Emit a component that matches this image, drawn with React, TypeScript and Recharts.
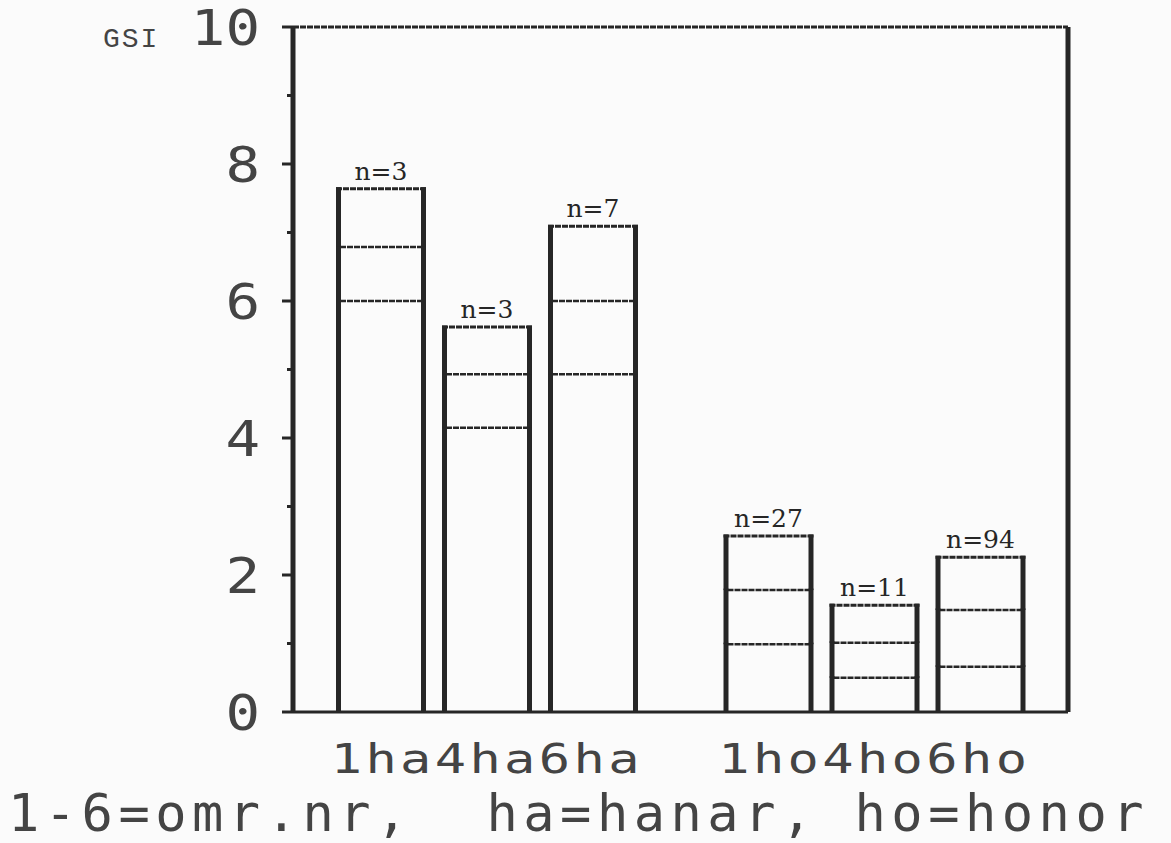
import { BarChart, Bar, XAxis, YAxis, ReferenceLine, LabelList } from "recharts";

// sex groups and age classes (1-6 = omr.nr)
const sexes = ["ha", "ho"];
const ages = ["1", "4", "6"];

// GSI per age class: top of bar, middle line, lower line, sample size
const haUpper = [7.64, 5.62, 7.09];
const haMean = [6.79, 4.93, 6.0];
const haLower = [6.0, 4.15, 4.93];
const haN = [3, 3, 7];

const hoUpper = [2.57, 1.56, 2.26];
const hoMean = [1.78, 1.01, 1.49];
const hoLower = [0.99, 0.5, 0.66];
const hoN = [27, 11, 94];

const yTicks = [0, 1, 2, 3, 4, 5, 6, 7, 8, 9, 10];
const yLabelTicks = [0, 2, 4, 6, 8, 10];

const caption = "1-6=omr.nr,  ha=hanar, ho=honor";

const INK = "#262626";
const TEXT = "#444444";

const series = [
  { upper: haUpper, mean: haMean, lower: haLower, n: haN },
  { upper: hoUpper, mean: hoMean, lower: hoLower, n: hoN },
];

const rows = sexes.map((s, si) => {
  const src = series[si];
  const row: Record<string, string | number> = { sex: s };
  ages.forEach((a, ai) => {
    row[`lo${a}`] = src.lower[ai];
    row[`mid${a}`] = src.mean[ai] - src.lower[ai];
    row[`hi${a}`] = src.upper[ai] - src.mean[ai];
    row[`n${a}`] = src.n[ai];
  });
  return row;
});

function Segment(props: any) {
  const { x, y, width, height, cap } = props;
  if (x == null || width == null || height == null) return null;
  return (
    <g>
      {cap ? (
        <line x1={x} x2={x + width} y1={y} y2={y} stroke={INK} strokeWidth={3} strokeDasharray="6 1" />
      ) : (
        <line x1={x + 4} x2={x + width - 4} y1={y} y2={y} stroke={INK} strokeWidth={2.5} strokeDasharray="6 1" />
      )}
      <line x1={x + 2.5} x2={x + 2.5} y1={y - 1.5} y2={y + height} stroke={INK} strokeWidth={5} />
      <line x1={x + width - 2.5} x2={x + width - 2.5} y1={y - 1.5} y2={y + height} stroke={INK} strokeWidth={5} />
    </g>
  );
}

function YTick(props: any) {
  const { x, y, payload } = props;
  const v = payload.value as number;
  const major = yLabelTicks.includes(v);
  return (
    <g>
      <line x1={x - (major ? 11 : 6)} x2={x} y1={y} y2={y} stroke={INK} strokeWidth={3} />
      {major && (
        <g transform={`translate(${x - 33}, ${y + 18}) scale(1.15, 1)`}>
          <text textAnchor="end" fontFamily="DejaVu Sans Mono" fontSize={50} fill={TEXT}>
            {String(v)}
          </text>
        </g>
      )}
    </g>
  );
}

function XTick(props: any) {
  const { x, y, payload } = props;
  const label = ages.map((a) => a + payload.value).join("");
  return (
    <g transform={`translate(${x}, ${y + 61}) scale(1.3, 1)`}>
      <text textAnchor="middle" fontFamily="DejaVu Sans Mono" fontSize={40} letterSpacing={2.6} fill={TEXT}>
        {label}
      </text>
    </g>
  );
}

export default function App() {
  return (
    <div
      style={{
        position: "absolute",
        left: 0,
        top: 0,
        width: 1171,
        height: 843,
        background: "#fbfbfb",
      }}
    >
      <BarChart
        width={1171}
        height={843}
        data={rows}
        margin={{ top: 27, right: 0, bottom: 0, left: 0 }}
        barSize={90}
        barGap={16}
      >
        <XAxis
          dataKey="sex"
          height={131}
          axisLine={{ stroke: INK, strokeWidth: 3 }}
          tickLine={false}
          tickSize={0}
          tickMargin={0}
          interval={0}
          tick={<XTick />}
        />
        <YAxis
          domain={[0, 10]}
          ticks={yTicks}
          width={293}
          axisLine={{ stroke: INK, strokeWidth: 5 }}
          tickLine={false}
          tickSize={0}
          tickMargin={0}
          interval={0}
          tick={<YTick />}
        />
        <YAxis
          yAxisId="right"
          orientation="right"
          domain={[0, 10]}
          width={103}
          axisLine={{ stroke: INK, strokeWidth: 5 }}
          tick={false}
          tickLine={false}
        />
        <ReferenceLine y={10} stroke={INK} strokeWidth={3} strokeDasharray="6 1" />
        {ages.flatMap((a) => [
          <Bar
            key={`lo${a}`}
            dataKey={`lo${a}`}
            stackId={a}
            isAnimationActive={false}
            shape={(p: any) => <Segment {...p} />}
          />,
          <Bar
            key={`mid${a}`}
            dataKey={`mid${a}`}
            stackId={a}
            isAnimationActive={false}
            shape={(p: any) => <Segment {...p} />}
          />,
          <Bar
            key={`hi${a}`}
            dataKey={`hi${a}`}
            stackId={a}
            isAnimationActive={false}
            shape={(p: any) => <Segment {...p} cap />}
          >
            <LabelList
              dataKey={`n${a}`}
              position="top"
              offset={9}
              formatter={(v: any) => `n=${v}`}
              fontFamily="DejaVu Serif"
              fontSize={25}
              fill={INK}
            />
          </Bar>,
        ])}
      </BarChart>
      <svg
        width={1171}
        height={843}
        style={{ position: "absolute", left: 0, top: 0, pointerEvents: "none" }}
      >
        <text
          x={103}
          y={47}
          fontFamily="Liberation Mono"
          fontSize={28}
          letterSpacing={2}
          fill={TEXT}
        >
          GSI
        </text>
        <text
          x={8}
          y={831}
          fontFamily="DejaVu Sans Mono"
          fontSize={52}
          letterSpacing={5.5}
          fill={TEXT}
          style={{ whiteSpace: "pre" }}
        >
          {caption}
        </text>
      </svg>
    </div>
  );
}
